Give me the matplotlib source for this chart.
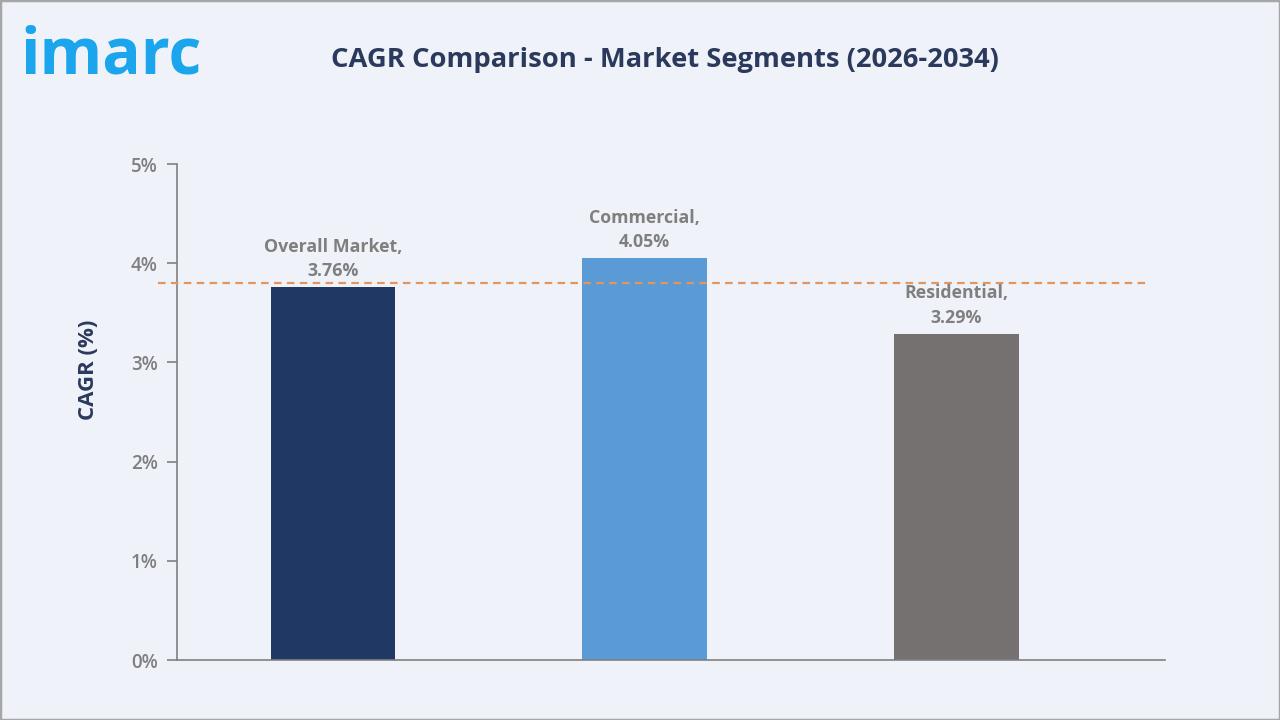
import matplotlib
matplotlib.use("Agg")
import matplotlib.pyplot as plt
from matplotlib.patches import Rectangle

categories = ["Overall Market", "Commercial", "Residential"]
cagr_values = [3.76, 4.05, 3.29]
reference_line = 3.8
y_ticks = [0, 1, 2, 3, 4, 5]
y_tick_labels = ["0%", "1%", "2%", "3%", "4%", "5%"]
bar_colors = ["#203864", "#5b9bd5", "#767171"]

title = "CAGR Comparison - Market Segments (2026-2034)"
ylabel = "CAGR (%)"

BG = "#eff3f9"
NAVY = "#2b3a5c"
GRAY = "#7f7f7f"
FONT = ["Open Sans", "DejaVu Sans"]

W, H = 1280, 720
fig = plt.figure(figsize=(12.8, 7.2), dpi=100, facecolor=BG)

# border
fig.patches.append(Rectangle((0, 0), 1, 1, transform=fig.transFigure,
                             fill=False, edgecolor="#a6a6a6", linewidth=2.5))

ax = fig.add_axes([177 / W, 1 - 660 / H, (1165 - 177) / W, (660 - 164) / H])
ax.set_facecolor(BG)

x = list(range(len(categories)))
ax.bar(x, cagr_values, width=0.4, color=bar_colors, zorder=2)

ax.set_xlim(-0.5, 2.67)
ax.set_ylim(0, 5)
ax.set_yticks(y_ticks)
ax.set_yticklabels(y_tick_labels, fontfamily=FONT, fontsize=13.5,
                   fontweight="semibold", color=GRAY)
ax.set_xticks([])
for s in ["top", "right"]:
    ax.spines[s].set_visible(False)
for s in ["left", "bottom"]:
    ax.spines[s].set_color("#808080")
    ax.spines[s].set_linewidth(1.2)
ax.tick_params(axis="y", length=7, width=1.2, color="#808080", pad=7)

# reference dashed line
ax.plot([-0.562, 2.613], [reference_line, reference_line], linestyle=(0, (3.4, 2.4)),
        color="#e3955c", linewidth=1.6, clip_on=False, zorder=3)

for xi, v, c in zip(x, cagr_values, categories):
    ax.annotate(f"{c},\n{v:.2f}%", (xi, v), xytext=(0, 5),
                textcoords="offset points", ha="center", va="bottom",
                fontfamily=FONT, fontsize=12.8, fontweight="bold",
                color=GRAY, linespacing=1.45, zorder=4)

ax.set_ylabel(ylabel, fontfamily=FONT, fontsize=16, fontweight="bold",
              color=NAVY)
ax.yaxis.set_label_coords((99 - 177) / (1165 - 177), (660 - 370) / (660 - 164))

fig.text(665 / W, 1 - 60 / H, title, ha="center", va="center",
         fontfamily=FONT, fontsize=19.7, fontweight="bold", color=NAVY)

# logo
fig.text(20 / W, 1 - 57 / H, "imarc", ha="left", va="center",
         fontfamily=FONT, fontsize=46, fontweight="bold", color="#1ba5ec")

fig.savefig("out.png", dpi=100, facecolor=BG)
